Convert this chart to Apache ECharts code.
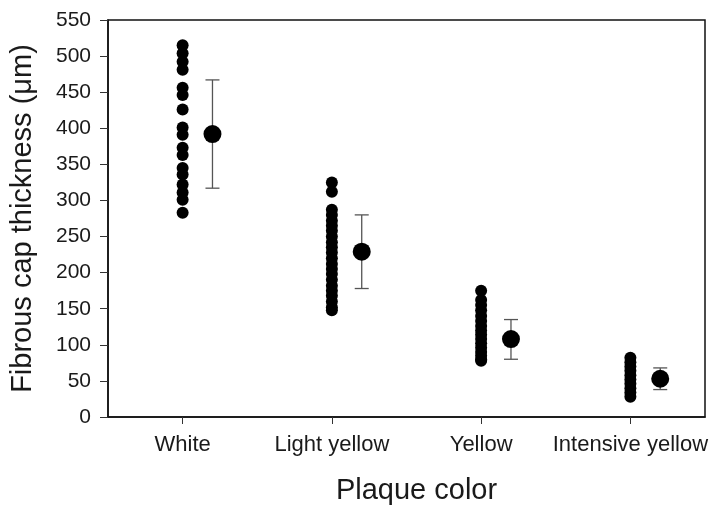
<!DOCTYPE html>
<html>
<head>
<meta charset="utf-8">
<script src="https://cdn.jsdelivr.net/npm/echarts@6/dist/echarts.min.js"></script>
<style>
  html, body { margin: 0; padding: 0; background: #fff; }
  #main { width: 715px; height: 506px; }
</style>
</head>
<body>
<div id="main"></div>
<script>
// categories and readings
var categories = ['White', 'Light yellow', 'Yellow', 'Intensive yellow'];
var whiteVals = [515, 504, 492, 481, 456, 446, 426, 401, 391, 373, 363, 345, 336, 322, 311, 301, 283];
var lightYellowVals = [325, 312, 287, 280, 272, 265, 258, 250, 242, 235, 228, 220, 212, 205, 198, 190, 182, 175, 168, 160, 152, 148];
var yellowVals = [175, 162, 155, 148, 140, 133, 126, 120, 114, 108, 102, 96, 90, 85, 80, 78];
var intensiveVals = [82, 76, 70, 64, 58, 52, 46, 40, 34, 28];
var means = [392, 229, 108, 53];
var errLow = [317, 178, 80, 38];
var errHigh = [467, 280, 135, 68];
var yTicks = [0, 50, 100, 150, 200, 250, 300, 350, 400, 450, 500, 550];

var myChart = echarts.init(document.getElementById('main'));

var groups = [whiteVals, lightYellowVals, yellowVals, intensiveVals];
var rawPts = [];
for (var i = 0; i < groups.length; i++) {
    for (var j = 0; j < groups[i].length; j++) {
        rawPts.push([i + 1, groups[i][j]]);
    }
}
var meanPts = [];
var errPts = [];
for (var k = 0; k < means.length; k++) {
    meanPts.push([k + 1.2, means[k]]);
    errPts.push([k + 1.2, errLow[k], errHigh[k]]);
}

var font = 'Liberation Sans, Arial, sans-serif';

option = {
    animation: false,
    grid: {
        left: 108,
        right: 10,
        top: 20,
        bottom: 89,
        containLabel: false,
        outerBoundsMode: 'none',
        show: true,
        borderColor: '#111',
        borderWidth: 1.5,
        backgroundColor: 'transparent'
    },
    xAxis: {
        type: 'value',
        min: 0.5,
        max: 4.5,
        name: 'Plaque color',
        nameLocation: 'middle',
        nameGap: 59,
        nameTextStyle: { fontFamily: font, fontSize: 29, color: '#1a1a1a', padding: [0, 0, 0, 20] },
        axisLine: { show: true, onZero: false, lineStyle: { color: '#111', width: 1.5 } },
        axisTick: { show: true, length: 7, customValues: [1, 2, 3, 4], lineStyle: { color: '#333' } },
        axisLabel: {
            customValues: [1, 2, 3, 4],
            margin: 17,
            fontFamily: font,
            fontSize: 22,
            color: '#1a1a1a',
            formatter: function (v) { return categories[Math.round(v) - 1]; }
        },
        splitLine: { show: false }
    },
    yAxis: {
        type: 'value',
        min: 0,
        max: 550,
        interval: 50,
        name: 'Fibrous cap thickness (μm)',
        nameLocation: 'middle',
        nameGap: 71,
        nameTextStyle: { fontFamily: font, fontSize: 29, color: '#1a1a1a' },
        axisLine: { show: true, lineStyle: { color: '#111', width: 1.5 } },
        axisTick: { show: true, length: 8, lineStyle: { color: '#333' } },
        axisLabel: {
            margin: 17,
            fontFamily: font,
            fontSize: 21,
            color: '#1a1a1a',
            formatter: function (v) { return yTicks.indexOf(v) >= 0 ? String(v) : ''; }
        },
        splitLine: { show: false }
    },
    series: [
        {
            type: 'scatter',
            data: rawPts,
            symbol: 'circle',
            symbolSize: 12,
            itemStyle: { color: '#000', opacity: 1 },
            z: 3
        },
        {
            type: 'custom',
            data: errPts,
            renderItem: function (params, api) {
                var x = api.value(0);
                var lo = api.coord([x, api.value(1)]);
                var hi = api.coord([x, api.value(2)]);
                var cap = 7;
                var st = { stroke: '#555', lineWidth: 1.3 };
                return {
                    type: 'group',
                    children: [
                        { type: 'line', shape: { x1: lo[0], y1: lo[1], x2: hi[0], y2: hi[1] }, style: st },
                        { type: 'line', shape: { x1: lo[0] - cap, y1: lo[1], x2: lo[0] + cap, y2: lo[1] }, style: st },
                        { type: 'line', shape: { x1: hi[0] - cap, y1: hi[1], x2: hi[0] + cap, y2: hi[1] }, style: st }
                    ]
                };
            },
            z: 2
        },
        {
            type: 'scatter',
            data: meanPts,
            symbol: 'circle',
            symbolSize: 18,
            itemStyle: { color: '#000', opacity: 1 },
            z: 4
        }
    ]
};
myChart.setOption(option);
</script>
</body>
</html>
